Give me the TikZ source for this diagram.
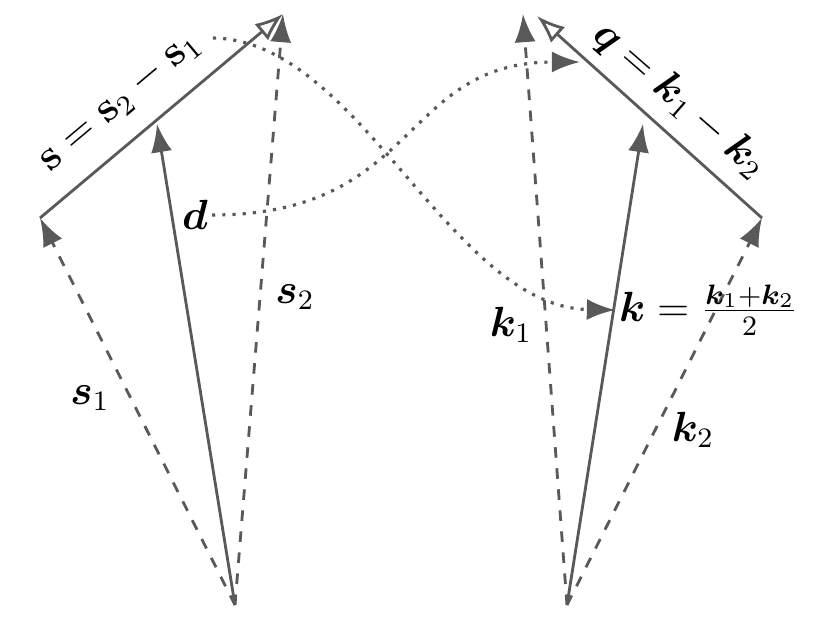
\documentclass[tikz,border=0pt]{standalone}
\usepackage{amsmath,bm}
\usetikzlibrary{arrows.meta}
\begin{document}
\begin{tikzpicture}[x=0.01cm,y=-0.01cm,
  vec/.style={draw=black!65,line width=0.8pt,-{Latex[length=8pt,width=6pt]}},
  dvec/.style={vec,dashed},
  ovec/.style={draw=black!65,line width=0.8pt,-{Latex[open,length=8pt,width=6pt]}},
  dotc/.style={draw=black!65,line width=0.9pt,dotted,-{Latex[length=8pt,width=6pt]}},
  lab/.style={font=\large,inner sep=1pt}]
\useasboundingbox (0,0) rectangle (829,623);
\coordinate (O1) at (235,605);
\coordinate (S1) at (40,218);
\coordinate (S2) at (283,14);
\coordinate (M1) at (157,124);
\coordinate (O2) at (567,605);
\coordinate (K1) at (523,14);
\coordinate (K2) at (762,218);
\coordinate (M2) at (643,124);
\coordinate (Q) at (537,16);
\draw[dvec] (O1) -- (S1);
\draw[dvec] (O1) -- (S2);
\draw[vec] (O1) -- (M1);
\draw[ovec] (S1) -- (S2);
\draw[dvec] (O2) -- (K1);
\draw[dvec] (O2) -- (K2);
\draw[vec] (O2) -- (M2);
\draw[ovec] (K2) -- (Q);
\node[lab] (ls) at (120,102) [rotate=40] {$\bm{\mathrm{s}}=\bm{\mathrm{s}}_2-\bm{\mathrm{s}}_1$};
\node[lab] (lq) at (680,100) [rotate=-41] {$\bm{q}=\bm{k}_1-\bm{k}_2$};
\node[lab] (ld) at (195,215) {$\bm{d}$};
\node[lab] (ls2) at (295,297) {$\bm{s}_2$};
\node[lab] (ls1) at (90,398) {$\bm{s}_1$};
\node[lab] (lk1) at (511,325) {$\bm{k}_1$};
\node[lab] (lk2) at (693,430) {$\bm{k}_2$};
\node[lab,anchor=west] (lk) at (615,310) {$\bm{k}=\frac{\bm{k}_1+\bm{k}_2}{2}$};
\coordinate (qend) at (580,62);
\draw[dotc] (213,38) .. controls (360,40) and (450,307) .. (lk.west);
\draw[dotc] (ld.east) .. controls (420,215) and (400,62) .. (qend);
\end{tikzpicture}
\end{document}
